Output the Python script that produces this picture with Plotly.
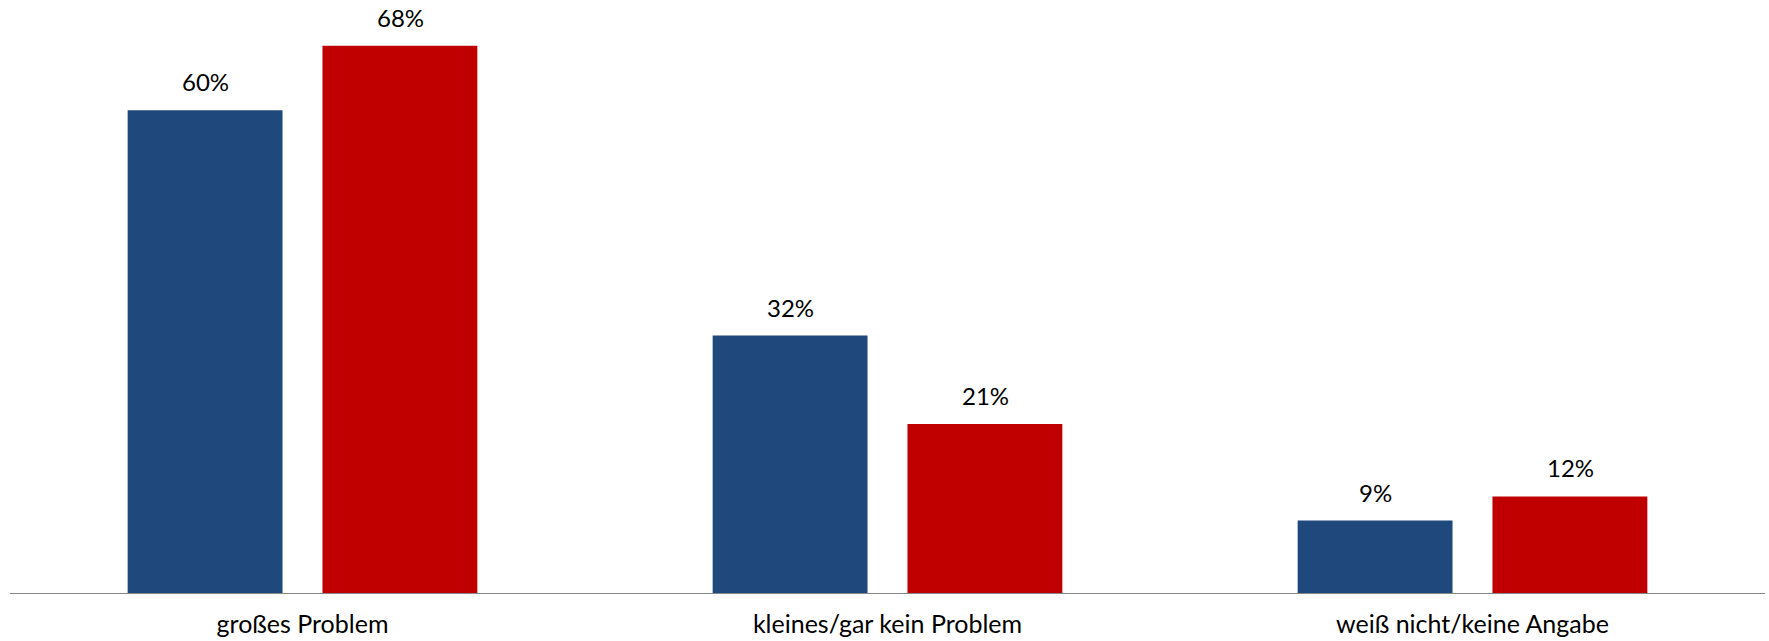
import plotly.graph_objects as go

categories = ["großes Problem", "kleines/gar kein Problem", "weiß nicht/keine Angabe"]
series_a = [60, 32, 9]
series_b = [68, 21, 12]

BLUE = "#1F497D"
RED = "#C00000"
FONT = "Lato"

fig = go.Figure()
fig.add_bar(x=categories, y=series_a, marker=dict(color=BLUE, line=dict(width=0)), name="A")
fig.add_bar(x=categories, y=series_b, marker=dict(color=RED, line=dict(width=0)), name="B")

# value labels above each bar, shifted onto their bar within the group
slot_px = 195
for vals, shift in ((series_a, -slot_px / 2), (series_b, slot_px / 2)):
    for cat, v in zip(categories, vals):
        fig.add_annotation(
            x=cat, y=v, text=f"{v}%", showarrow=False,
            xshift=shift, yshift=12, yanchor="bottom",
            font=dict(family=FONT, size=24, color="#000000"),
        )

fig.update_layout(
    width=1769, height=641,
    margin=dict(l=10, r=4, t=0, b=48),
    paper_bgcolor="white", plot_bgcolor="white",
    barmode="group", bargap=0.334, bargroupgap=0.205,
    showlegend=False,
    xaxis=dict(
        showline=True, linecolor="#868686", linewidth=1,
        ticks="", showgrid=False, zeroline=False,
        automargin=False,
        ticklabelstandoff=9,
        tickfont=dict(family=FONT, size=25, color="#000000"),
    ),
    yaxis=dict(
        range=[0, 73.7], visible=False, showgrid=False, zeroline=False,
    ),
)

fig.write_html("out.html")
